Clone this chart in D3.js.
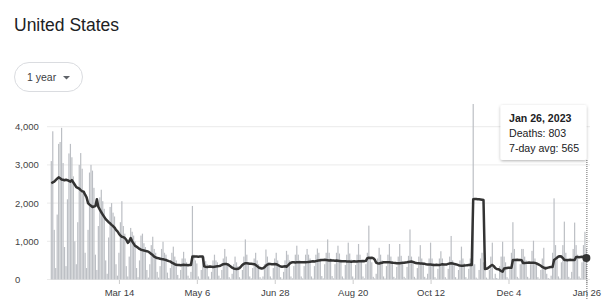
<!DOCTYPE html>
<html>
<head>
<meta charset="utf-8">
<script src="https://cdnjs.cloudflare.com/ajax/libs/d3/7.8.5/d3.min.js"></script>
<style>
	body { margin: 0; background: #fff; }
	svg { display: block; font-family: 'Liberation Sans', Arial, sans-serif; }
</style>
</head>
<body>
<svg width="612" height="300"></svg>
<script>
const firstDay = '2022-01-27';

// daily deaths, one row per week (Thu..Wed)
const deaths = [
	3100, 3880, 1300, 300, 1700, 3550, 3600,
	3970, 3050, 850, 350, 2100, 3300, 3550,
	3200, 2700, 1000, 400, 1500, 3000, 3310,
	2900, 2300, 700, 300, 1300, 2800, 3000,
	2850, 2400, 650, 250, 1400, 2150, 2350,
	2050, 1850, 500, 150, 1100, 1900, 2000,
	1750, 1650, 400, 100, 700, 1500, 2050,
	1400, 1200, 350, 80, 600, 1350, 1250,
	1150, 1000, 300, 60, 500, 1150, 1200,
	950, 850, 250, 50, 400, 900, 1120,
	800, 700, 200, 50, 350, 800, 990,
	700, 650, 180, 40, 300, 700, 860,
	600, 500, 120, 30, 250, 550, 725,
	550, 450, 100, 30, 200, 1925, 650,
	500, 420, 80, 20, 250, 550, 600,
	480, 400, 80, 20, 200, 500, 650,
	500, 450, 100, 30, 250, 550, 800,
	600, 400, 60, 20, 150, 400, 600,
	450, 350, 60, 20, 250, 600, 1050,
	650, 450, 80, 30, 300, 550, 700,
	500, 400, 60, 20, 80, 400, 785,
	600, 450, 80, 30, 300, 550, 700,
	500, 400, 60, 20, 200, 500, 750,
	650, 500, 80, 30, 350, 650, 885,
	650, 500, 80, 30, 350, 650, 800,
	650, 550, 80, 30, 350, 650, 810,
	700, 550, 90, 30, 400, 700, 1050,
	700, 550, 90, 30, 400, 700, 885,
	680, 520, 80, 30, 380, 650, 965,
	680, 520, 80, 30, 380, 650, 930,
	650, 520, 80, 30, 400, 700, 1410,
	600, 450, 70, 30, 150, 550, 830,
	650, 500, 80, 30, 350, 650, 930,
	600, 480, 70, 30, 330, 600, 930,
	620, 480, 70, 30, 330, 620, 1310,
	600, 450, 70, 30, 300, 600, 900,
	550, 450, 70, 30, 150, 550, 965,
	550, 420, 60, 20, 280, 550, 740,
	550, 420, 60, 20, 280, 600, 1140,
	500, 400, 60, 20, 250, 500, 860,
	550, 420, 60, 20, 280, 550, 800,
	12600, 400, 50, 20, 250, 550, 700,
	450, 380, 50, 20, 250, 600, 965,
	30, 150, 40, 20, 350, 600, 990,
	600, 450, 60, 20, 300, 700, 1500,
	800, 550, 70, 30, 400, 800, 800,
	600, 500, 70, 30, 400, 750, 1015,
	550, 400, 60, 20, 250, 550, 830,
	350, 150, 40, 20, 100, 700, 2125,
	900, 600, 80, 30, 450, 900, 1515,
	700, 550, 70, 30, 200, 800, 1490,
	900, 650, 80, 30, 450, 900, 1250,
	803
];

// 7-day average as drawn
const avg7 = [
	2520, 2540, 2560, 2600, 2640, 2675, 2650,
	2620, 2610, 2600, 2610, 2600, 2580, 2560,
	2600, 2540, 2480, 2420, 2400, 2380, 2340,
	2310, 2300, 2220, 2150, 2000, 1960, 1930,
	1900, 1910, 1920, 2100, 1900, 1830, 1760,
	1700, 1640, 1580, 1540, 1500, 1470, 1430,
	1400, 1360, 1300, 1260, 1200, 1150, 1120,
	1110, 1085, 1040, 960, 1000, 1085, 1000,
	940, 880, 860, 830, 800, 780, 770,
	760, 750, 740, 730, 700, 670, 640,
	600, 580, 560, 555, 545, 535, 530,
	520, 510, 495, 480, 470, 440, 420,
	400, 385, 380, 380, 375, 380, 385,
	380, 380, 375, 380, 380, 600, 605,
	600, 600, 595, 600, 600, 600, 345,
	335, 330, 335, 340, 335, 330, 335,
	340, 345, 350, 360, 380, 400, 405,
	405, 395, 370, 340, 310, 290, 280,
	275, 280, 300, 340, 380, 410, 425,
	425, 420, 415, 410, 405, 400, 380,
	350, 320, 300, 290, 295, 320, 360,
	390, 405, 405, 400, 400, 405, 400,
	380, 360, 340, 335, 340, 345, 335,
	370, 410, 440, 450, 450, 445, 450,
	450, 455, 450, 450, 455, 450, 455,
	460, 465, 470, 475, 470, 480, 490,
	500, 505, 510, 510, 515, 510, 505,
	500, 505, 500, 495, 490, 495, 490,
	485, 480, 480, 475, 480, 470, 470,
	470, 465, 470, 475, 470, 470, 475,
	480, 480, 485, 480, 490, 560, 570,
	565, 570, 560, 520, 440, 425, 420,
	430, 440, 450, 450, 455, 450, 450,
	445, 440, 435, 430, 425, 425, 425,
	430, 435, 440, 445, 450, 460, 465,
	470, 460, 445, 430, 425, 425, 420,
	420, 415, 410, 400, 395, 390, 390,
	385, 380, 380, 385, 380, 380, 390,
	400, 395, 390, 395, 410, 420, 425,
	420, 410, 400, 390, 375, 365, 360,
	360, 365, 370, 375, 380, 385, 380,
	2100, 2110, 2105, 2100, 2100, 2095, 2090,
	2080, 275, 280, 300, 330, 360, 380,
	350, 300, 275, 270, 250, 220, 205,
	290, 295, 300, 305, 305, 310, 510,
	510, 510, 515, 510, 510, 505, 430,
	430, 435, 440, 445, 440, 440, 440,
	435, 420, 400, 380, 360, 330, 310,
	290, 300, 310, 320, 330, 330, 510,
	540, 570, 600, 610, 600, 560, 510,
	510, 505, 510, 515, 510, 510, 510,
	590, 590, 585, 590, 595, 590, 590,
	565
];

const xTickDates = ['2022-03-14', '2022-05-06', '2022-06-28', '2022-08-20', '2022-10-12', '2022-12-04', '2023-01-26'];
const yTicks = [0, 1000, 2000, 3000, 4000];
const tooltipLines = ['Jan 26, 2023', 'Deaths: 803', '7-day avg: 565'];

const svg = d3.select('svg');
const parse = d3.utcParse('%Y-%m-%d');
const start = parse(firstDay);
const days = deaths.map((v, i) => ({
	date: d3.utcDay.offset(start, i),
	deaths: v,
	avg: avg7[i]
}));

const x = d3.scaleUtc()
	.domain([start, days[days.length - 1].date])
	.range([51.3, 586.4]);

const y = d3.scaleLinear()
	.domain([0, 4000])
	.range([279.5, 126.7]);

// header
svg.append('text')
	.attr('x', 14)
	.attr('y', 31)
	.attr('font-size', 17.5)
	.attr('fill', '#202124')
	.text('United States');

svg.append('rect')
	.attr('x', 14.5).attr('y', 62.5)
	.attr('width', 68).attr('height', 29)
	.attr('rx', 14.5)
	.attr('fill', '#fff')
	.attr('stroke', '#dadce0');

svg.append('text')
	.attr('x', 27)
	.attr('y', 80.5)
	.attr('font-size', 10.5)
	.attr('fill', '#3c4043')
	.text('1 year');

svg.append('path')
	.attr('d', 'M63,76 L70,76 L66.5,79.5 Z')
	.attr('fill', '#5f6368');

// grid + y labels
svg.append('g')
	.selectAll('line')
	.data(yTicks)
	.enter().append('line')
	.attr('x1', 47).attr('x2', 590)
	.attr('y1', d => y(d)).attr('y2', d => y(d))
	.attr('stroke', '#ebebeb');

svg.append('g')
	.selectAll('text')
	.data(yTicks)
	.enter().append('text')
	.attr('x', 15)
	.attr('y', d => y(d) + 3.5)
	.attr('font-size', 9.5)
	.attr('fill', '#444')
	.text(d => d3.format(',')(d));

// x axis
const xAxis = svg.append('g')
	.attr('transform', 'translate(0,280)')
	.call(d3.axisBottom(x)
		.tickValues(xTickDates.map(parse))
		.tickFormat(d3.utcFormat('%b %-d'))
		.tickSize(4)
		.tickPadding(5));
xAxis.select('.domain').remove();
xAxis.selectAll('line').attr('stroke', '#ccc');
xAxis.selectAll('text')
	.attr('font-size', 9.5)
	.attr('font-family', "'Liberation Sans', Arial, sans-serif")
	.attr('fill', '#3c4043');

// bars
svg.append('clipPath')
	.attr('id', 'plot')
	.append('rect')
	.attr('x', 40).attr('y', 104)
	.attr('width', 560).attr('height', 180);

svg.append('g')
	.attr('clip-path', 'url(#plot)')
	.selectAll('rect')
	.data(days)
	.enter().append('rect')
	.attr('x', d => x(d.date) - 0.6)
	.attr('width', 1.2)
	.attr('y', d => y(d.deaths))
	.attr('height', d => y(0) - y(d.deaths))
	.attr('fill', '#bcbfc4');

// 7-day average line
svg.append('path')
	.datum(days)
	.attr('fill', 'none')
	.attr('stroke', '#333')
	.attr('stroke-width', 2.5)
	.attr('stroke-linejoin', 'round')
	.attr('d', d3.line()
		.x(d => x(d.date))
		.y(d => y(d.avg)));

// hover marker
const last = days[days.length - 1];
svg.append('line')
	.attr('x1', x(last.date) + 0.5).attr('x2', x(last.date) + 0.5)
	.attr('y1', 160).attr('y2', 300)
	.attr('stroke', '#666')
	.attr('stroke-dasharray', '1,1');

svg.append('circle')
	.attr('cx', x(last.date))
	.attr('cy', y(last.avg))
	.attr('r', 4)
	.attr('fill', '#333');

// tooltip
const shadow = svg.append('filter')
	.attr('id', 'shadow')
	.attr('x', '-20%').attr('y', '-20%')
	.attr('width', '140%').attr('height', '140%');
shadow.append('feDropShadow')
	.attr('dx', 0).attr('dy', 1)
	.attr('stdDeviation', 1.5)
	.attr('flood-opacity', 0.3);

svg.append('rect')
	.attr('x', 500.5).attr('y', 105)
	.attr('width', 86).attr('height', 55)
	.attr('rx', 2)
	.attr('fill', '#fff')
	.attr('filter', 'url(#shadow)');

svg.append('g')
	.selectAll('text')
	.data(tooltipLines)
	.enter().append('text')
	.attr('x', 509)
	.attr('y', (d, i) => 121.5 + i * 15)
	.attr('font-size', 10.6)
	.attr('font-weight', (d, i) => i === 0 ? 'bold' : 'normal')
	.attr('fill', '#202124')
	.text(d => d);
</script>
</body>
</html>
